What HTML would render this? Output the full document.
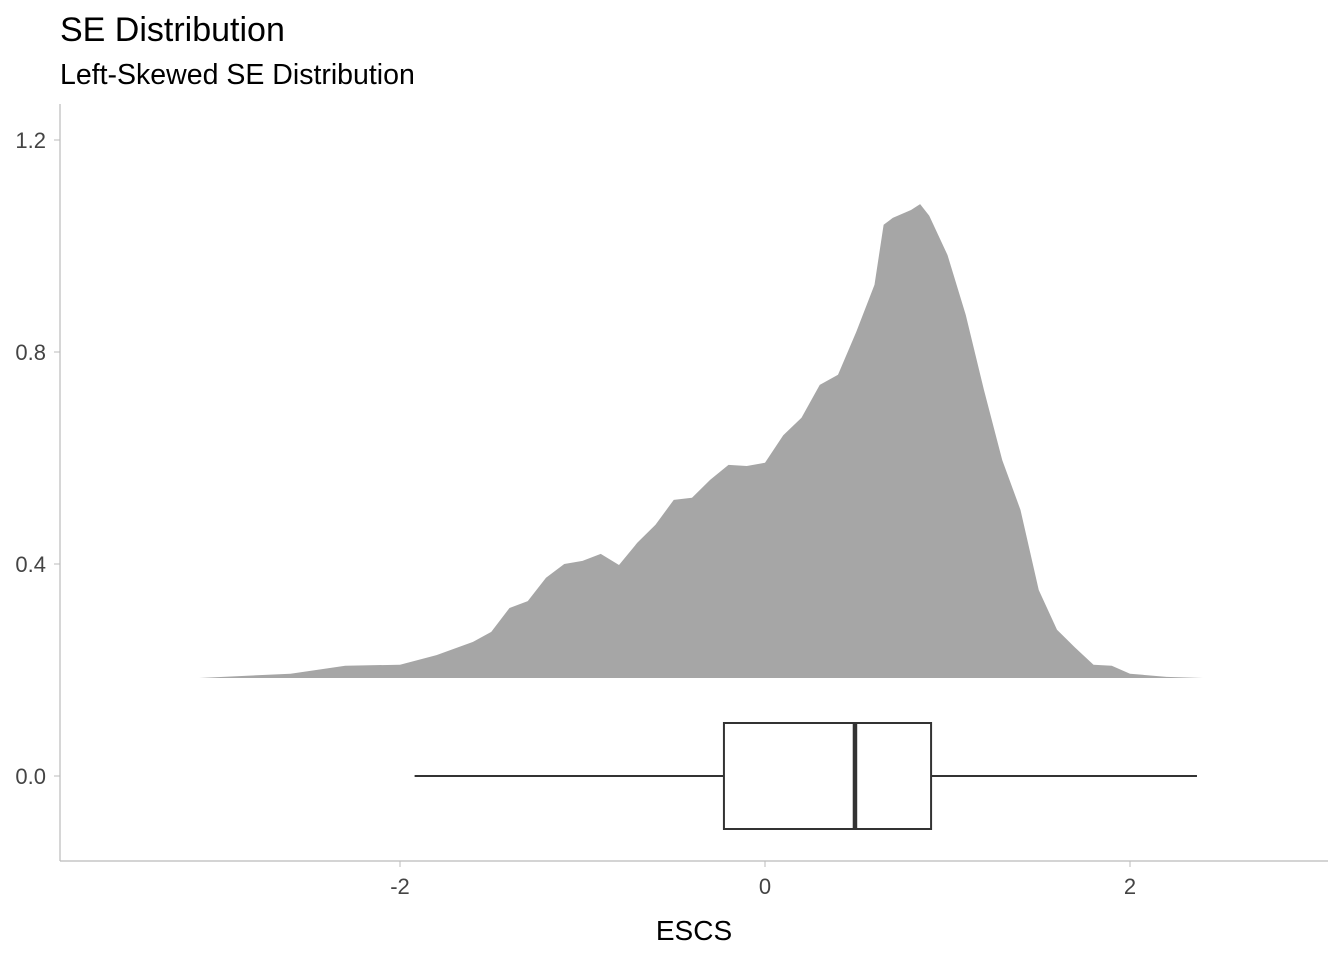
<!DOCTYPE html>
<html><head><meta charset="utf-8"><style>
body{margin:0;background:#fff;}
svg{display:block;font-family:"Liberation Sans",sans-serif;}
</style></head><body>
<svg id="chart" width="1344" height="960">
<text x="60" y="41" font-size="34" fill="#000">SE Distribution</text>
<text x="60" y="84" font-size="28.5" fill="#000">Left-Skewed SE Distribution</text>
<line x1="60" y1="104" x2="60" y2="861" stroke="#bbb" stroke-width="1.2"/>
<line x1="60" y1="861" x2="1328" y2="861" stroke="#bbb" stroke-width="1.2"/>
<text x="694" y="940" font-size="28" text-anchor="middle" fill="#000">ESCS</text>
<g id="plot"></g>
</svg>
<script>
const densX=[-3.1,-2.6,-2.3,-2.0,-1.8,-1.6,-1.5,-1.4,-1.3,-1.2,-1.1,-1.0,-0.9,-0.8,-0.7,-0.6,-0.5,-0.4,-0.3,-0.2,-0.1,0,0.1,0.2,0.3,0.4,0.5,0.6,0.65,0.7,0.8,0.85,0.9,1.0,1.1,1.2,1.3,1.4,1.5,1.6,1.7,1.8,1.9,2.0,2.2,2.4];
const densY=[0,0.008,0.023,0.025,0.043,0.068,0.087,0.132,0.145,0.189,0.215,0.221,0.234,0.213,0.255,0.289,0.336,0.340,0.374,0.402,0.400,0.406,0.458,0.491,0.553,0.572,0.653,0.742,0.855,0.868,0.883,0.894,0.872,0.798,0.685,0.543,0.411,0.317,0.166,0.091,0.057,0.025,0.023,0.008,0.002,0];
const densOffset=0.185;
const boxStats=[-1.92,-0.225,0.493,0.91,2.367];
const boxHalf=0.1;
const xTicks=[-2,0,2];
const yTicks=[0.0,0.4,0.8,1.2];
const yTickLabels=["0.0","0.4","0.8","1.2"];
const X=v=>765+v*182.5, Y=v=>776-v*530;
const NS="http://www.w3.org/2000/svg", g=document.getElementById('plot');
function mk(t,a){const e=document.createElementNS(NS,t);for(const k in a)e.setAttribute(k,a[k]);g.appendChild(e);return e;}
xTicks.forEach(v=>{
 const l=mk('line',{x1:X(v),x2:X(v),y1:861,y2:867,stroke:'#bbb'});
 
 
 const t=mk('text',{x:X(v),y:894,'font-size':22,'text-anchor':'middle',fill:'#444'});
 t.textContent=v;
 
 
});
yTicks.forEach((v,i)=>{
 const l=mk('line',{x1:54,x2:60,y1:Y(v),y2:Y(v),stroke:'#bbb'});
 
 
 const t=mk('text',{x:46,y:Y(v)+8,'font-size':22,'text-anchor':'end',fill:'#444'});
 t.textContent=yTickLabels[i];
 
 
});
let d='M'+X(densX[0])+','+Y(densOffset);
densX.forEach((x,i)=>{d+=' L'+X(x)+','+Y(densOffset+densY[i]);});
d+=' L'+X(densX[densX.length-1])+','+Y(densOffset)+'Z';
const area=mk('path',{d:d,fill:'#a6a6a6',stroke:'none'});


const w1=mk('line',{x1:X(boxStats[0]),x2:X(boxStats[1]),y1:Y(0),y2:Y(0),stroke:'#333','stroke-width':2});


const w2=mk('line',{x1:X(boxStats[3]),x2:X(boxStats[4]),y1:Y(0),y2:Y(0),stroke:'#333','stroke-width':2});


const box=mk('rect',{x:X(boxStats[1]),y:Y(boxHalf),width:X(boxStats[3])-X(boxStats[1]),height:Y(-boxHalf)-Y(boxHalf),fill:'#fff',stroke:'#333','stroke-width':2});


const med=mk('line',{x1:X(boxStats[2]),x2:X(boxStats[2]),y1:Y(boxHalf),y2:Y(-boxHalf),stroke:'#333','stroke-width':4.5});


</script>
</body></html>
